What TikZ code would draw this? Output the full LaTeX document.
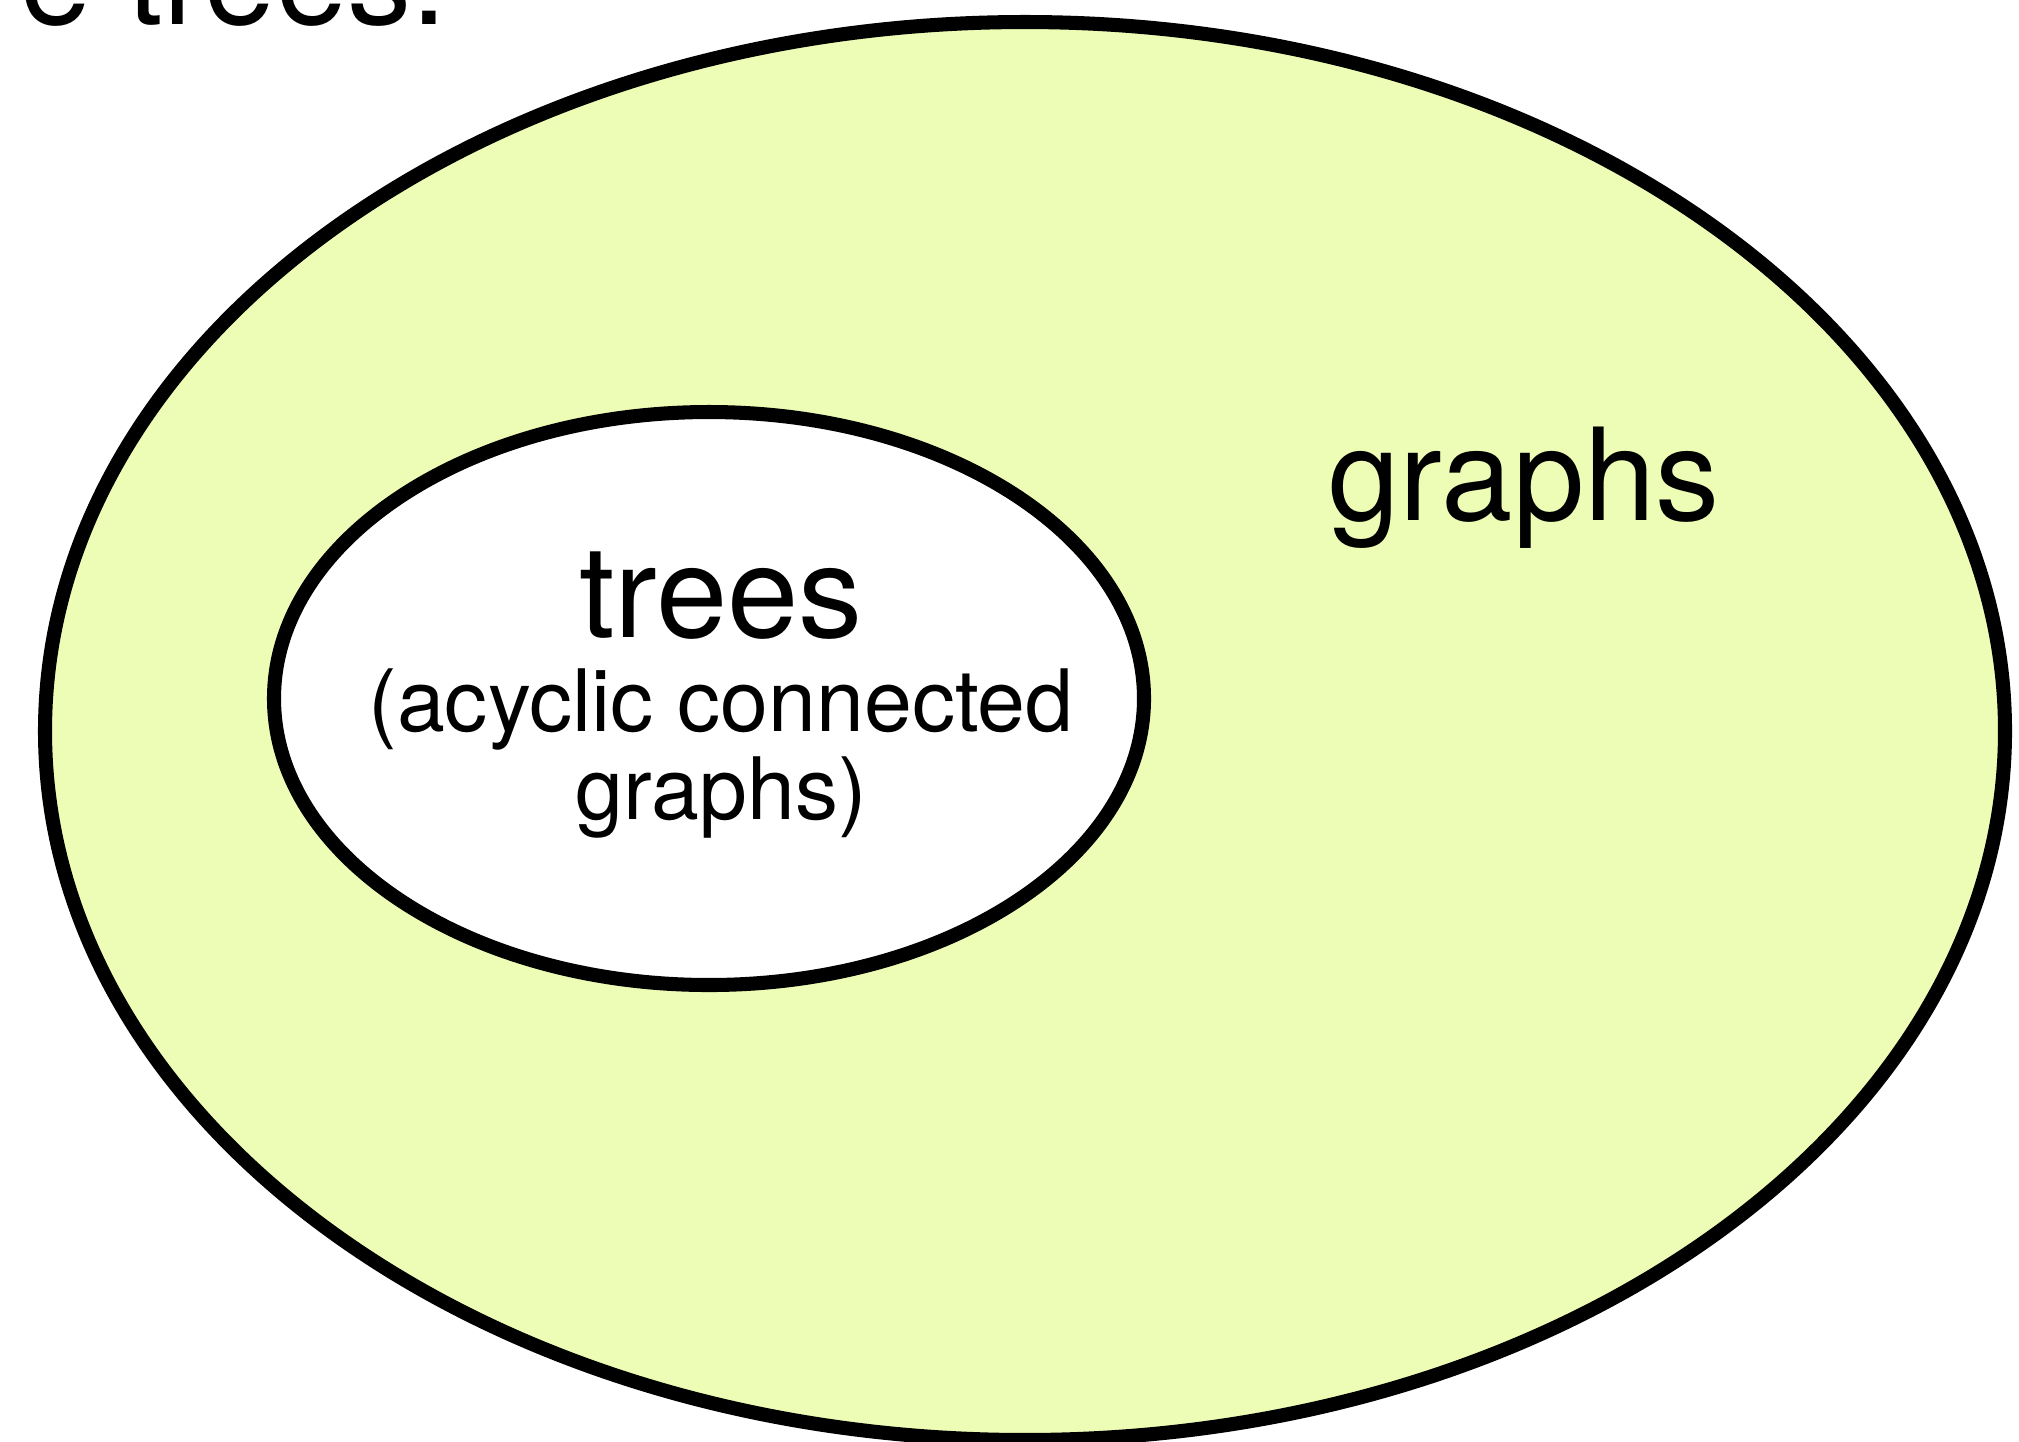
\documentclass[tikz,border=0pt]{standalone}
\usepackage{fontspec}
\setmainfont{TeX Gyre Heros}
\definecolor{graphfill}{RGB}{238,253,181}

\tikzset{
  setline/.style={draw=black,line width=4pt},
  setlabel/.style={inner sep=0pt,anchor=base,font=\fontsize{36.5}{43}\selectfont},
}

\begin{document}
\begin{tikzpicture}[x=0.1mm,y=-0.1mm]
\useasboundingbox (0,0) rectangle (2019,1441);
\clip (0,0) rectangle (2019,1441);
% outer set: all graphs
\draw[setline,fill=graphfill] (1025,731) ellipse [x radius=98mm,y radius=70.9mm];
% inner set: trees
\draw[setline,fill=white] (709,698.5) ellipse [x radius=43.5mm,y radius=28.65mm];
\node[setlabel] (graphs) at (1524,520) {graphs};
\node[setlabel] (trees) at (721,637) {trees};
% base of a two-line node sits on its last line
\node[setlabel,align=center,font=\fontsize{24.5}{24.8}\selectfont] (treesdef) at (721,819)
  {(acyclic connected\\graphs)};
% tail of the sentence above
\node[setlabel,anchor=base west] (caption) at (20,24) {e trees.};
\end{tikzpicture}
\end{document}
